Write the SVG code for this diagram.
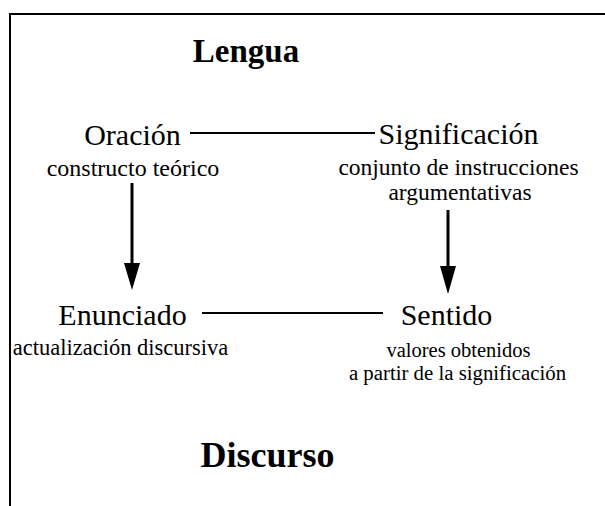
<svg xmlns="http://www.w3.org/2000/svg" width="605" height="506" viewBox="0 0 605 506" font-family="'Liberation Serif', serif">
<style>
text{fill:#000;text-anchor:middle}
.t{font-size:33px;font-weight:bold}
.m{font-size:30px}
.s{font-size:23px}
.ln{stroke:#000;stroke-width:2;fill:none}
.ar{stroke:#000;stroke-width:3;fill:none}
</style>
<rect width="605" height="506" fill="#fff"/>
<path class="ln" d="M10,506 V14 H605"/>
<g id="lengua"><text class="t" x="246" y="62">Lengua</text></g>
<g id="discurso"><text class="t" x="267.5" y="467" style="font-size:36px">Discurso</text></g>
<g id="oracion"><text class="m" x="132.5" y="145">Oración</text><text class="s" x="133" y="176" style="font-size:24px">constructo teórico</text></g>
<g id="significacion"><text class="m" x="458.5" y="144">Significación</text><text class="s" x="458.5" y="175" style="font-size:23.5px">conjunto de instrucciones</text><text class="s" x="460" y="200" style="font-size:23.5px">argumentativas</text></g>
<g id="enunciado"><text class="m" x="122.5" y="325">Enunciado</text><text class="s" x="120.5" y="355" style="font-size:22.5px">actualización discursiva</text></g>
<g id="sentido"><text class="m" x="446.5" y="325">Sentido</text><text class="s" x="458.5" y="357" style="font-size:20.5px">valores obtenidos</text><text class="s" x="457.5" y="380" style="font-size:20.8px">a partir de la significación</text></g>
<g id="connectors">
<line class="ln" x1="190" y1="133" x2="375" y2="133"/>
<line class="ln" x1="202" y1="313" x2="383" y2="313"/>
<line class="ar" x1="132" y1="183" x2="132" y2="265"/>
<polygon points="124,263 140,263 132,290" fill="#000"/>
<line class="ar" x1="448" y1="210" x2="448" y2="268"/>
<polygon points="440,266 456,266 448,294" fill="#000"/>
</g>
</svg>
